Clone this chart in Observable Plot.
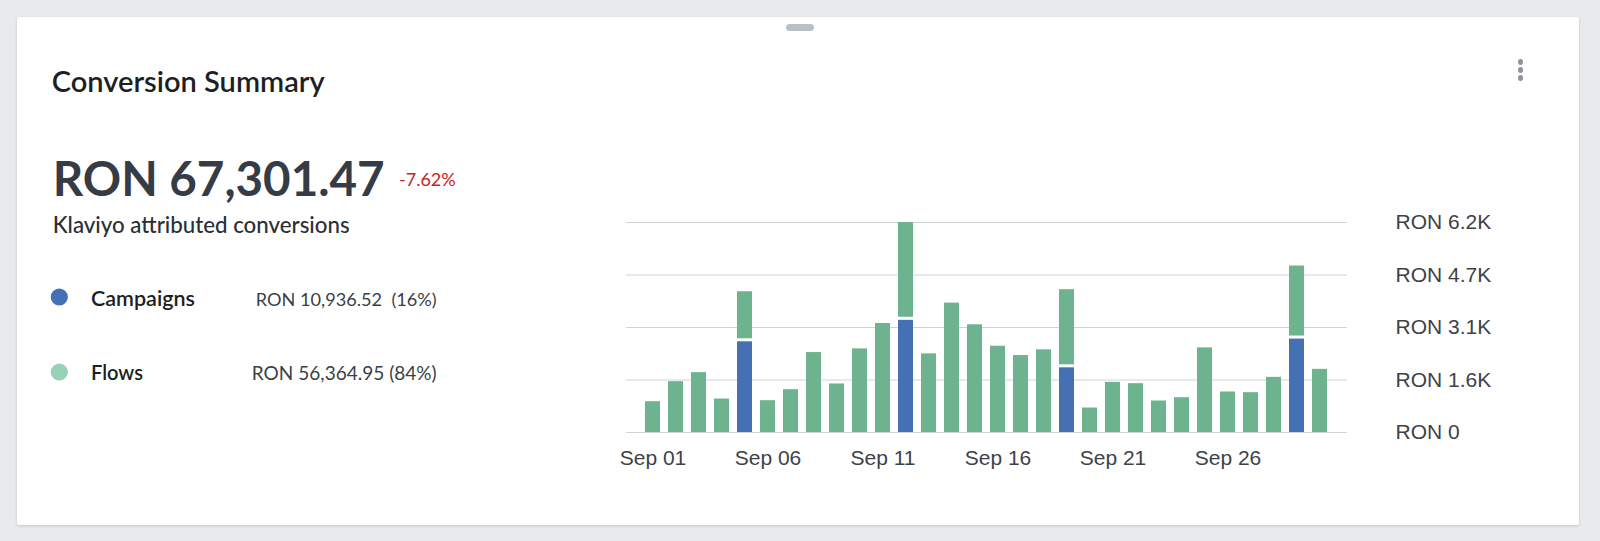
<!DOCTYPE html>
<html>
<head>
<meta charset="utf-8">
<script src="https://cdn.jsdelivr.net/npm/d3@7"></script>
<script src="https://cdn.jsdelivr.net/npm/@observablehq/plot@0.6"></script>
<style>
  html, body { margin: 0; padding: 0; width: 1600px; height: 541px; overflow: hidden; background: #e9eaec; }
  #card { position: absolute; left: 17px; top: 17px; width: 1562px; height: 508px; background: #fff;
          box-shadow: 0 1px 3px rgba(0,0,0,0.16); border-radius: 2px; }
  #pill { position: absolute; left: 786px; top: 24px; width: 28px; height: 7px; border-radius: 4px; background: #b9bfc6; }
  .dot { position: absolute; left: 1518px; width: 5px; height: 6px; border-radius: 50%; background: #8d939b; }
  #overlay { position: absolute; left: 0; top: 0; }
  #chart { position: absolute; left: 600px; top: 190px; }
</style>
</head>
<body>
<div id="card"></div>
<div id="pill"></div>
<div class="dot" style="top:59px"></div>
<div class="dot" style="top:67px"></div>
<div class="dot" style="top:75px"></div>
<svg id="overlay" width="1600" height="541" xmlns="http://www.w3.org/2000/svg"></svg>
<div id="chart"></div>
<script>
// ---- data ----
const days = ["Sep 01","Sep 02","Sep 03","Sep 04","Sep 05","Sep 06","Sep 07","Sep 08","Sep 09","Sep 10",
              "Sep 11","Sep 12","Sep 13","Sep 14","Sep 15","Sep 16","Sep 17","Sep 18","Sep 19","Sep 20",
              "Sep 21","Sep 22","Sep 23","Sep 24","Sep 25","Sep 26","Sep 27","Sep 28","Sep 29","Sep 30"];
const campaigns = [0,0,0,0,2711,0,0,0,0,0,0,3350,0,0,0,0,0,0,1937,0,0,0,0,0,0,0,0,0,2792,0];
const flows = [915,1511,1779,995,1472,945,1272,2375,1442,2485,3239,2890,2336,3845,3201,2563,2286,2456,2306,727,
               1490,1451,936,1034,2515,1204,1183,1639,2155,1877];
const seriesNames = ["Campaigns","Flows"];
const seriesColors = ["#4571b4","#6db38f"];
const legendDotColors = ["#4470b6","#99d1b6"];
const legendValues = ["RON 10,936.52\u00a0 (16%)","RON 56,364.95 (84%)"];
const xTickLabels = ["Sep 01","Sep 06","Sep 11","Sep 16","Sep 21","Sep 26"];
const yTicks = [0,1560,3120,4680,6240];
const yTickLabels = ["RON 0","RON 1.6K","RON 3.1K","RON 4.7K","RON 6.2K"];
const title = "Conversion Summary";
const total = "RON 67,301.47";
const change = "-7.62%";
const subtitle = "Klaviyo attributed conversions";

// ---- table ----
const rows = [];
days.forEach((d, i) => {
  rows.push({day: d, series: seriesNames[0], value: campaigns[i]});
  rows.push({day: d, series: seriesNames[1], value: flows[i]});
});
const campaignDays = days.map((d, i) => ({day: d, value: campaigns[i]})).filter(r => r.value > 0);

const chart = Plot.plot({
  width: 900,
  height: 292,
  marginLeft: 26,
  marginRight: 153,
  marginTop: 32,
  marginBottom: 50,
  style: {fontFamily: "'Liberation Sans', Arial, sans-serif", fontSize: "21px", color: "#3d424a", background: "transparent", overflow: "visible"},
  x: {type: "band", domain: days, paddingInner: 0.34, paddingOuter: 0.755, align: 0.5},
  y: {domain: [0, 6240]},
  color: {domain: seriesNames, range: seriesColors},
  marks: [
    Plot.gridY(yTicks, {stroke: "#cfd3d8", strokeOpacity: 1, strokeWidth: 1}),
    Plot.barY(rows, {x: "day", y: "value", fill: "series"}),
    Plot.tickY(campaignDays, {x: "day", y: "value", stroke: "white", strokeWidth: 3, dy: -1.5}),
    Plot.axisY(yTicks, {anchor: "right", tickSize: 0, tickPadding: 48, tickFormat: (d) => yTickLabels[yTicks.indexOf(d)], label: null}),
    Plot.axisX(xTickLabels, {anchor: "bottom", tickSize: 0, tickPadding: 18, label: null})
  ]
});
document.getElementById("chart").appendChild(chart);

// ---- panel text ----
const NS = "http://www.w3.org/2000/svg";
const ov = document.getElementById("overlay");
const panelFont = "Lato, 'Open Sans', sans-serif";
function addText(str, x, y, size, weight, fill, targetW) {
  const t = document.createElementNS(NS, "text");
  t.setAttribute("x", x); t.setAttribute("y", y);
  t.setAttribute("font-family", panelFont);
  t.setAttribute("font-size", size);
  t.setAttribute("font-weight", weight);
  t.setAttribute("fill", fill);
  t.setAttribute("style", "white-space:pre");
  t.textContent = str;
  t.dataset.w = targetW; t.dataset.s = size;
  ov.appendChild(t);
  return t;
}
function addDot(cx, cy, r, fill) {
  const c = document.createElementNS(NS, "circle");
  c.setAttribute("cx", cx); c.setAttribute("cy", cy); c.setAttribute("r", r); c.setAttribute("fill", fill);
  ov.appendChild(c);
}
addText(title, 51.7, 91.5, 26, 600, "#1d1f23", 273);
addText(total, 52.7, 196, 47, 700, "#353c45", 332);
addText(change, 399, 186, 18, 400, "#c8231b", 56.7);
addText(subtitle, 52.7, 233.3, 20, 500, "#2b2f36", 297);
addDot(59.3, 297, 8.6, legendDotColors[0]);
addDot(59.3, 372, 8.6, legendDotColors[1]);
addText(seriesNames[0], 91, 305.7, 19, 600, "#1d1f23", 104);
addText(seriesNames[1], 91, 380, 19, 600, "#1d1f23", 52);
const lv1 = addText(legendValues[0], 436.7, 305.7, 17, 400, "#3a3f46", 181);
const lv2 = addText(legendValues[1], 436.7, 380, 17, 400, "#3a3f46", 185);
lv1.setAttribute("text-anchor", "end"); lv2.setAttribute("text-anchor", "end");

function fit() {
  ov.querySelectorAll("text").forEach(t => {
    const target = +t.dataset.w;
    const s0 = +t.dataset.s;
    t.setAttribute("font-size", s0);
    const w = t.getComputedTextLength();
    if (w > 0) t.setAttribute("font-size", (s0 * target / w).toFixed(2));
  });
}
fit();
if (document.fonts && document.fonts.ready) document.fonts.ready.then(fit);
</script>
</body>
</html>
